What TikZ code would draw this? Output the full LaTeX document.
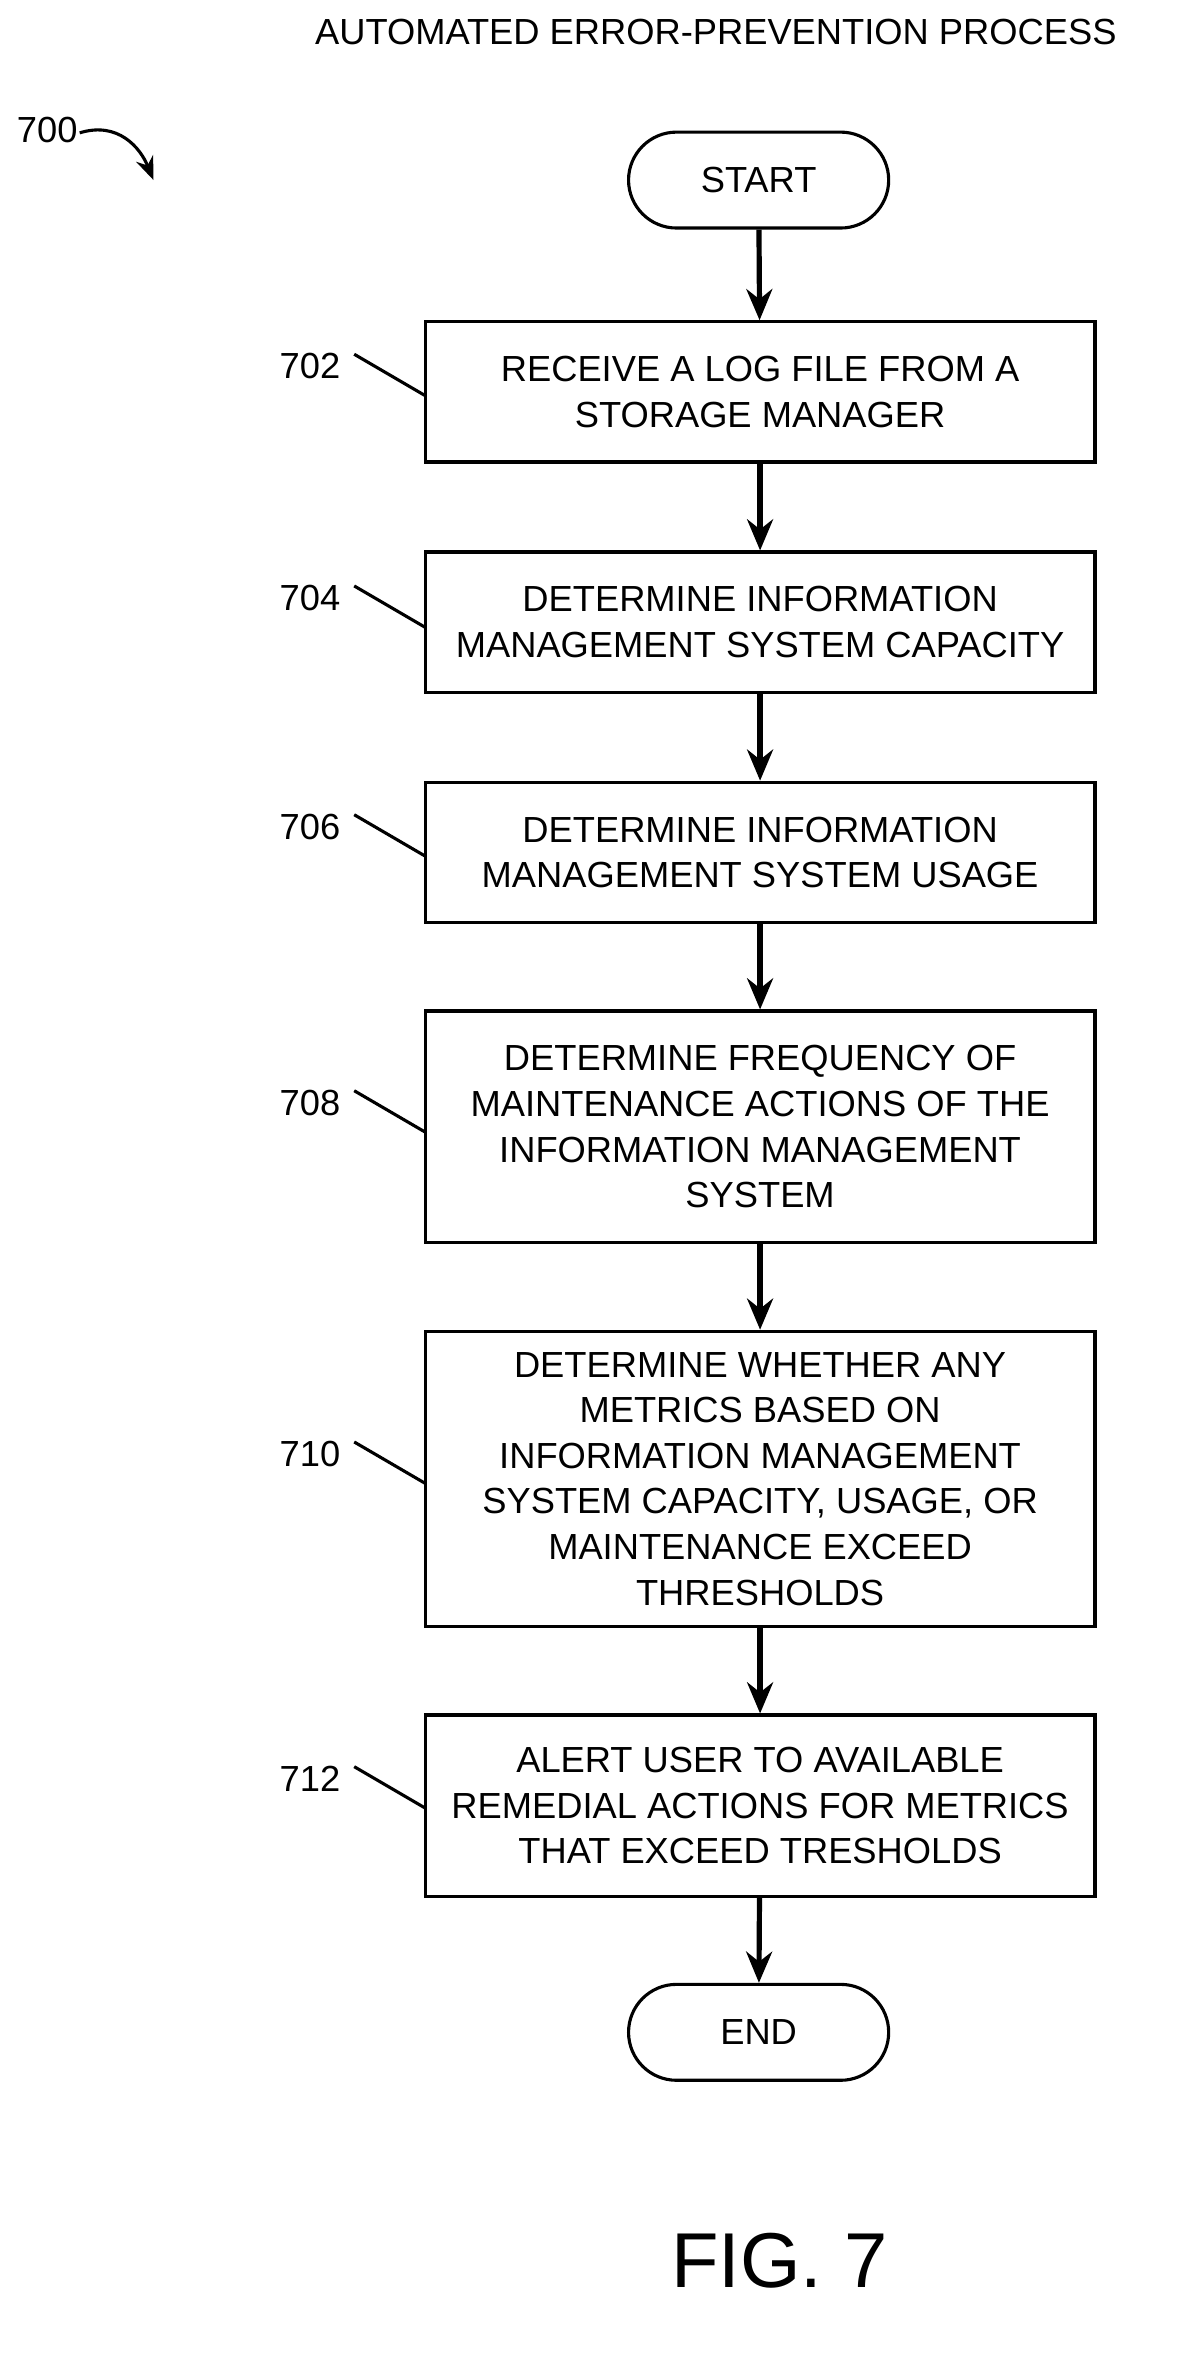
\documentclass[tikz,border=0pt]{standalone}
\usepackage{fontspec}
\setmainfont{Liberation Sans}
\usetikzlibrary{arrows.meta,shapes.misc}
\begin{document}
\begin{tikzpicture}[x=0.02cm,y=-0.02cm,
  box/.style={draw,line width=1.2pt,minimum width=9.08cm,align=center,inner sep=0pt,font=\fontsize{14}{17.6}\selectfont},
  term/.style={draw,line width=1.2pt,rounded rectangle,minimum width=3.76cm,minimum height=1.3cm,font=\fontsize{14}{17.6}\selectfont},
  arr/.style={line width=2pt,-{Stealth[length=12pt,width=10pt]}},
  lbl/.style={font=\fontsize{14}{17.6}\selectfont},
  lead/.style={line width=1.2pt}]
\useasboundingbox (0,0) rectangle (800,1597);
\node[lbl] (title) at (485,22) {AUTOMATED ERROR-PREVENTION PROCESS};
\node[lbl] (n700) at (32,88) {700};
\coordinate (c700a) at (54,90);
\coordinate (c700b) at (104,122);
\draw[line width=1.2pt,-{Stealth[length=9pt,width=7pt]}] (c700a) .. controls (80,82) and (95,100) .. (c700b);
\node[term] (start) at (514,122) {START};
\node[box,minimum height=1.9cm] (b702) at (515,265.5) {RECEIVE A LOG FILE FROM A\\STORAGE MANAGER};
\node[box,minimum height=1.9cm] (b704) at (515,421.5) {DETERMINE INFORMATION\\MANAGEMENT SYSTEM CAPACITY};
\node[box,minimum height=1.9cm] (b706) at (515,577.5) {DETERMINE INFORMATION\\MANAGEMENT SYSTEM USAGE};
\node[box,minimum height=3.14cm] (b708) at (515,763.5) {DETERMINE FREQUENCY OF\\MAINTENANCE ACTIONS OF THE\\INFORMATION MANAGEMENT\\SYSTEM};
\node[box,minimum height=4cm] (b710) at (515,1002) {DETERMINE WHETHER ANY\\METRICS BASED ON\\INFORMATION MANAGEMENT\\SYSTEM CAPACITY, USAGE, OR\\MAINTENANCE EXCEED\\THRESHOLDS};
\node[box,minimum height=2.46cm] (b712) at (515,1223.5) {ALERT USER TO AVAILABLE\\REMEDIAL ACTIONS FOR METRICS\\THAT EXCEED TRESHOLDS};
\node[term] (end) at (514,1377) {END};
\foreach \a/\b in {start/b702,b702/b704,b704/b706,b706/b708,b708/b710,b710/b712,b712/end}
  \draw[arr] (\a) -- (\b);
\foreach \n/\y in {702/248,704/405,706/560,708/747,710/985,712/1205}{
  \node[lbl] (l\n) at (210,\y) {\n};
  \draw[lead] (240,\y-8) -- (288,\y+20);
}
\node[font=\fontsize{30}{36}\selectfont] (fig) at (528,1532) {FIG. 7};
\end{tikzpicture}
\end{document}
